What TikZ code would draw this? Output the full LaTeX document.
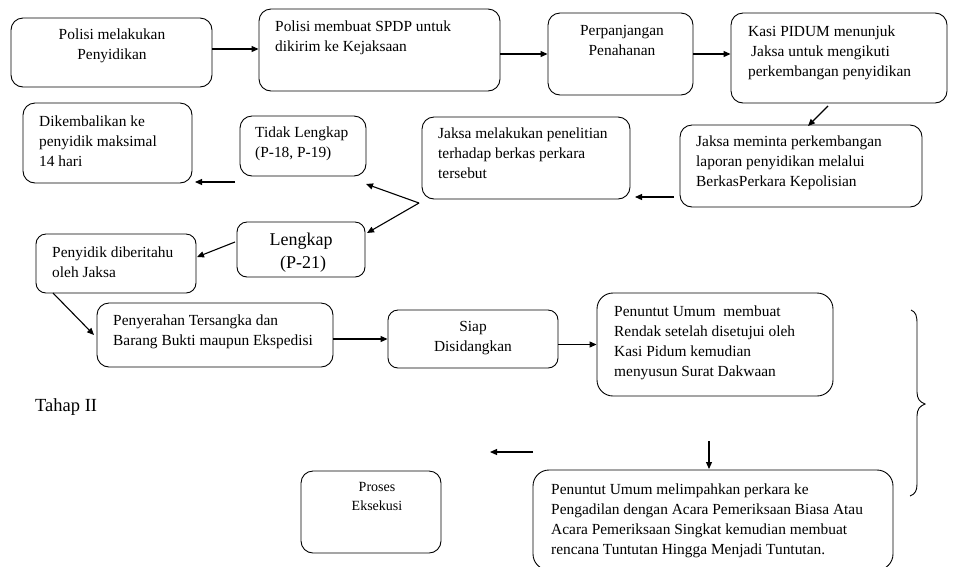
\documentclass[tikz,border=0pt]{standalone}
\usepackage{fontspec}
\setmainfont{Liberation Serif}
\usetikzlibrary{arrows.meta,calc}
\tikzset{
  box/.style={draw, line width=0.9pt, rounded corners=12pt, inner sep=0pt},
  txt/.style={inner sep=0pt, align=left, anchor=north west, font=\fontsize{15.4}{20}\selectfont},
  ctxt/.style={inner sep=0pt, align=center, anchor=north, font=\fontsize{15.4}{20}\selectfont},
  arr/.style={line width=1.1pt, -{Triangle[length=7pt,width=6pt]}},
  ln/.style={line width=1.1pt}
}
\begin{document}
\begin{tikzpicture}[x=1pt,y=-1pt]
\useasboundingbox (0,0) rectangle (968,566);
% boxes
\node[box, minimum width=201pt, minimum height=69pt] (b1) at (111.5,52.5) {};
\node[box, minimum width=241pt, minimum height=82pt] (b2) at (379.5,50) {};
\node[box, minimum width=145pt, minimum height=82pt] (b3) at (620.5,54) {};
\node[box, minimum width=216pt, minimum height=90pt] (b4) at (839,58) {};
\node[box, minimum width=242pt, minimum height=82pt] (b5) at (801,166) {};
\node[box, minimum width=208pt, minimum height=82pt] (b6) at (526,158) {};
\node[box, minimum width=126pt, minimum height=60pt] (tl) at (303,146) {};
\node[box, minimum width=169pt, minimum height=80pt] (dk) at (107.5,143) {};
\node[box, rounded corners=10pt, minimum width=128pt, minimum height=55pt] (lk) at (301,249.5) {};
\node[box, rounded corners=10pt, minimum width=160pt, minimum height=59pt] (pd) at (116,263.5) {};
\node[box, minimum width=236pt, minimum height=64pt] (ps) at (215,335) {};
\node[box, rounded corners=10pt, minimum width=170pt, minimum height=58pt] (sp) at (473,339) {};
\node[box, rounded corners=16pt, minimum width=236pt, minimum height=103pt] (pm) at (715,344.5) {};
\node[box, minimum width=140pt, minimum height=82pt] (pe) at (371,512) {};
\node[box, rounded corners=16pt, minimum width=360pt, minimum height=100pt] (pl) at (713,520) {};
% texts
\node[ctxt] (t1) at (112,29) {Polisi melakukan\\Penyidikan};
\node[txt] (t2) at (275,21) {Polisi membuat SPDP untuk\\dikirim ke Kejaksaan};
\node[ctxt] (t3) at (622,25) {Perpanjangan\\Penahanan};
\node[txt] (t4) at (748,26) {Kasi PIDUM menunjuk\\\hspace{3pt}Jaksa untuk mengikuti\\perkembangan penyidikan};
\node[txt] (t5) at (696,136) {Jaksa meminta perkembangan\\laporan penyidikan melalui\\BerkasPerkara Kepolisian};
\node[txt] (t6) at (438,128) {Jaksa melakukan penelitian\\terhadap berkas perkara\\tersebut};
\node[txt] (t7) at (255,127) {Tidak Lengkap\\(P-18, P-19)};
\node[txt] (t8) at (39,116) {Dikembalikan ke\\penyidik maksimal\\14 hari};
\node[ctxt, font=\fontsize{18}{23}\selectfont] (t9) at (301,233) {Lengkap\\\hspace{4pt}(P-21)};
\node[txt] (t10) at (52,247) {Penyidik diberitahu\\oleh Jaksa};
\node[txt] (t11) at (113,315) {Penyerahan Tersangka dan\\Barang Bukti maupun Ekspedisi};
\node[ctxt] (t12) at (473,321) {Siap\\Disidangkan};
\node[txt] (t13) at (614,306) {Penuntut Umum\ \ membuat\\Rendak setelah disetujui oleh\\Kasi Pidum kemudian\\menyusun Surat Dakwaan};
\node[inner sep=0pt, anchor=west, font=\fontsize{18.5}{20}\selectfont] (t14) at (35,407) {Tahap II};
\node[ctxt, font=\fontsize{14}{19}\selectfont] (t15) at (377,482) {Proses\\Eksekusi};
\node[txt] (t16) at (551,484) {Penuntut Umum melimpahkan perkara ke\\Pengadilan dengan Acara Pemeriksaan Biasa Atau\\Acara Pemeriksaan Singkat kemudian membuat\\rencana Tuntutan Hingga Menjadi Tuntutan.};
% free connector ends
\coordinate (c4s) at (828,106);
\coordinate (c4e) at (808,126);
\coordinate (c5s) at (674,197);
\coordinate (c5e) at (635,197);
\coordinate (fork) at (419,203);
\coordinate (ftl) at (366,184);
\coordinate (flk) at (367,233);
\coordinate (c6s) at (235,182);
\coordinate (c6e) at (195,182);
\coordinate (c7s) at (235,242);
\coordinate (c7e) at (197,257);
\coordinate (c8s) at (53,293);
\coordinate (c8e) at (94,335);
\coordinate (c11s) at (709,441);
\coordinate (c11e) at (709,469);
\coordinate (c12s) at (533,452);
\coordinate (c12e) at (490,452);
% connectors
\draw[arr] ([yshift=3.5pt]b1.east) -- ([yshift=3.5pt]b1.east -| b2.west);
\draw[arr] (b3.west -| b2.east) -- (b3.west);
\draw[arr] (b3.east) -- (b3.east -| b4.west);
\draw[arr] (c4s) -- (c4e);
\draw[arr] (c5s) -- (c5e);
\draw[arr] (fork) -- (ftl);
\draw[arr] (fork) -- (flk);
\draw[arr] (c6s) -- (c6e);
\draw[arr] (c7s) -- (c7e);
\draw[arr] (c8s) -- (c8e);
\draw[arr] (sp.west -| ps.east) -- (sp.west);
\draw[arr] (pm.west -| sp.east) -- (pm.west);
\draw[arr] (c11s) -- (c11e);
\draw[arr] (c12s) -- (c12e);
% brace
\draw[line width=0.9pt] (911,310) .. controls (916,312) and (917,316) .. (917,324)
  -- (917,392) .. controls (917,399) and (920,402) .. (925,404)
  .. controls (920,406) and (917,409) .. (917,416)
  -- (917,484) .. controls (917,491) and (915,494) .. (910,496);
\end{tikzpicture}
\end{document}
